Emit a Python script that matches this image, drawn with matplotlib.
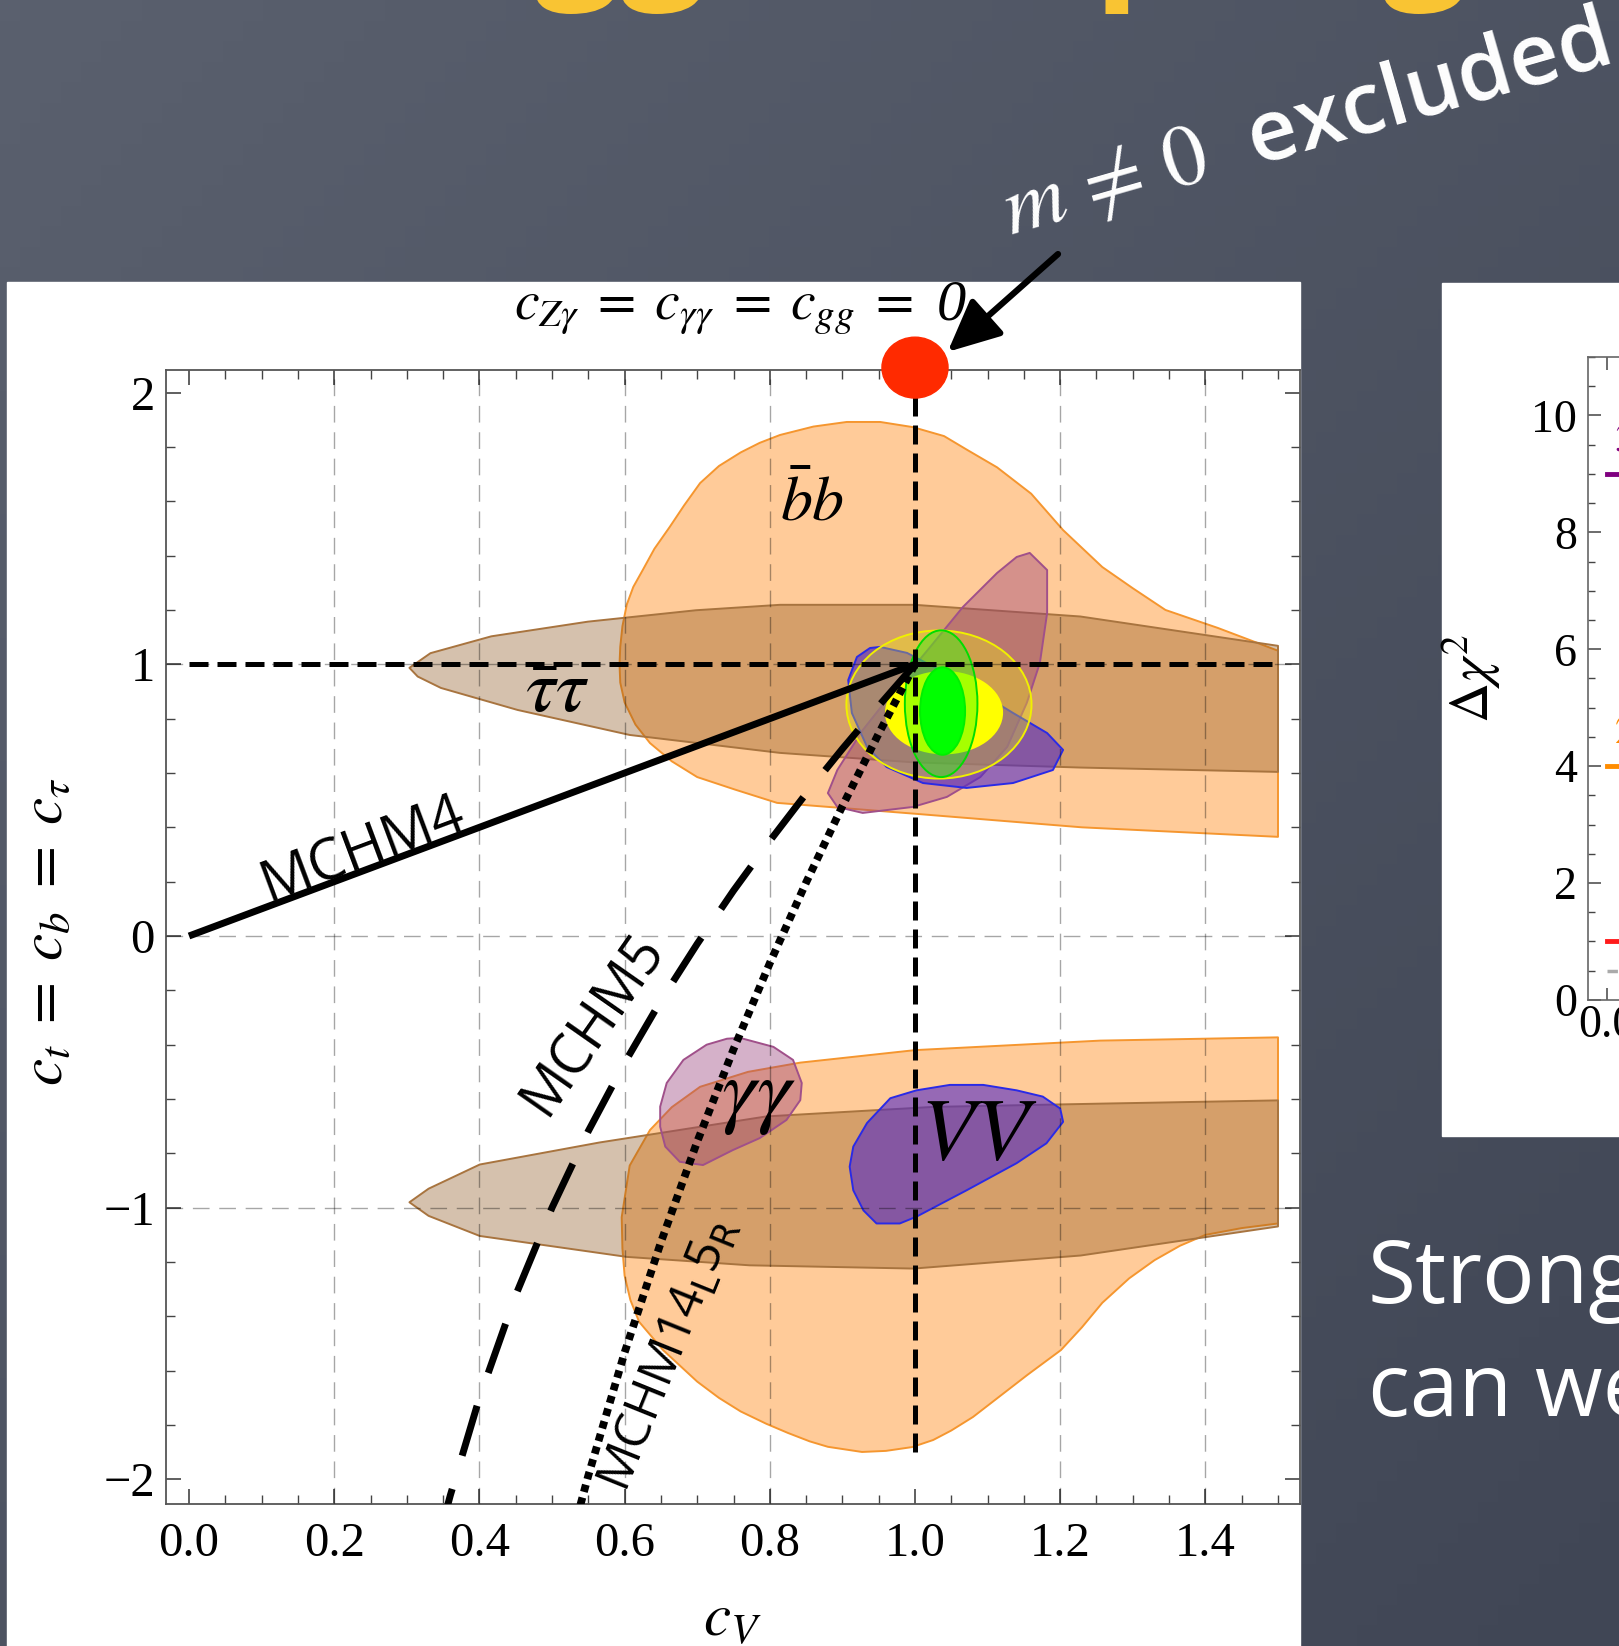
import numpy as np
import matplotlib.pyplot as plt
from matplotlib.patches import Polygon, Ellipse, Rectangle, PathPatch
from matplotlib.textpath import TextPath
from matplotlib.font_manager import FontProperties
from matplotlib.transforms import Affine2D

plt.rcParams['font.family'] = 'Liberation Serif'
plt.rcParams['mathtext.fontset'] = 'stix'
CHALK = 'Open Sans'

# 68% CL regions in the (c_V, c_t) plane, upper and lower branch
bb_up_cv = [1.50, 1.23, 1.00, 0.81, 0.752, 0.70, 0.665, 0.635, 0.615, 0.600, 0.594, 0.593, 0.594, 0.597, 0.603,
            0.612, 0.625, 0.641, 0.662, 0.682, 0.704, 0.73, 0.76, 0.786, 0.814, 0.86, 0.906, 0.952, 0.997, 1.04,
            1.072, 1.113, 1.16, 1.204, 1.258, 1.30, 1.345, 1.417, 1.50]
bb_up_ct = [0.365, 0.40, 0.45, 0.49, 0.539, 0.585, 0.643, 0.71, 0.778, 0.86, 0.933, 1.0, 1.064, 1.14, 1.22,
            1.285, 1.347, 1.425, 1.505, 1.585, 1.667, 1.73, 1.78, 1.815, 1.844, 1.875, 1.892, 1.892, 1.873, 1.84,
            1.789, 1.725, 1.628, 1.494, 1.358, 1.28, 1.20, 1.134, 1.05]
bb_lo_cv = [1.50, 1.255, 1.00, 0.842, 0.77, 0.704, 0.665, 0.635, 0.607, 0.596, 0.597, 0.600, 0.608, 0.62, 0.653,
            0.70, 0.73, 0.76, 0.795, 0.825, 0.855, 0.88, 0.927, 0.96, 0.996, 1.025, 1.05, 1.08, 1.11, 1.155, 1.201,
            1.23, 1.258, 1.295, 1.33, 1.365, 1.40, 1.45, 1.50]
bb_lo_ct = [-0.373, -0.385, -0.42, -0.466, -0.50, -0.555, -0.63, -0.714, -0.845, -1.035, -1.15, -1.25, -1.34,
            -1.42, -1.524, -1.64, -1.70, -1.75, -1.795, -1.829, -1.86, -1.88, -1.899, -1.895, -1.881, -1.855,
            -1.82, -1.77, -1.708, -1.615, -1.524, -1.44, -1.35, -1.26, -1.193, -1.14, -1.10, -1.075, -1.058]

tau_up_cv = [0.3036, 0.3326, 0.4164, 0.5495, 0.6984, 0.8141, 0.9992, 1.2277, 1.50, 1.50, 1.228, 0.999, 0.814,
             0.607, 0.4526, 0.347, 0.315]
tau_up_ct = [0.987, 1.041, 1.103, 1.157, 1.199, 1.219, 1.219, 1.176, 1.068, 0.604, 0.620, 0.639, 0.674, 0.740,
             0.832, 0.913, 0.955]
tau_lo_cv = [0.3036, 0.33, 0.4005, 0.5653, 0.7953, 1.025, 1.2551, 1.50, 1.50, 1.228, 0.998, 0.772, 0.603,
             0.4005, 0.33]
tau_lo_ct = [-0.980, -0.93, -0.841, -0.760, -0.664, -0.629, -0.617, -0.605, -1.069, -1.176, -1.224, -1.212,
             -1.181, -1.104, -1.03]

aa_up_cv = [1.158, 1.182, 1.182, 1.172, 1.154, 1.127, 1.090, 1.044, 0.997, 0.928, 0.893, 0.880, 0.893, 0.928,
            0.975, 1.021, 1.066, 1.113, 1.140]
aa_up_ct = [1.410, 1.347, 1.189, 1.005, 0.858, 0.696, 0.585, 0.512, 0.475, 0.453, 0.475, 0.526, 0.611, 0.758,
            0.916, 1.064, 1.211, 1.336, 1.395]
aa_lo_cv = [0.759, 0.805, 0.832, 0.844, 0.842, 0.823, 0.786, 0.749, 0.708, 0.676, 0.656, 0.649, 0.649, 0.658,
            0.681, 0.713, 0.741]
aa_lo_ct = [-0.375, -0.408, -0.456, -0.541, -0.604, -0.677, -0.744, -0.788, -0.843, -0.831, -0.775, -0.702,
            -0.628, -0.541, -0.456, -0.400, -0.378]

vv_up_cv = [0.938, 0.920, 0.908, 0.913, 0.934, 0.961, 1.011, 1.071, 1.135, 1.190, 1.204, 1.182, 1.135, 1.090,
            1.034, 0.989, 0.952]
vv_up_ct = [1.060, 1.027, 0.942, 0.821, 0.696, 0.622, 0.563, 0.545, 0.563, 0.611, 0.685, 0.747, 0.821, 0.894,
            0.979, 1.042, 1.064]
vv_lo_cv = [0.910, 0.915, 0.929, 0.947, 0.979, 1.002, 1.071, 1.140, 1.181, 1.204, 1.200, 1.176, 1.140, 1.094,
            1.048, 1.002, 0.966, 0.934, 0.915]
vv_lo_ct = [-0.849, -0.936, -1.010, -1.058, -1.058, -1.033, -0.936, -0.836, -0.763, -0.684, -0.635, -0.591,
            -0.568, -0.548, -0.548, -0.568, -0.597, -0.688, -0.775]

# combined fit: (centre c_V, centre c_t, width, height) of 68% and 95% regions
comb_95 = (1.033, 0.852, 0.255, 0.545)
comb_68 = (1.040, 0.822, 0.160, 0.300)
ggf_95 = (1.036, 0.855, 0.100, 0.540)
ggf_68 = (1.038, 0.828, 0.062, 0.322)

# composite Higgs model predictions
mchm4_cv = [0.0, 1.0]
mchm4_ct = [0.0, 1.0]
mchm5_cv = [1.0, 0.95, 0.9, 0.85, 0.8, 0.75, 0.7, 0.65, 0.6, 0.55, 0.5, 0.45, 0.4, 0.36, 0.35]
mchm5_ct = [1.0, 0.847, 0.689, 0.524, 0.35, 0.167, -0.029, -0.238, -0.467, -0.718, -1.0, -1.322, -1.7, -2.058, -2.157]
mchm14_cv = [1.0, 0.95, 0.9, 0.85, 0.8, 0.75, 0.7, 0.65, 0.6, 0.55, 0.53]
mchm14_ct = [1.0, 0.745, 0.478, 0.197, -0.1, -0.417, -0.757, -1.127, -1.533, -1.986, -2.184]

sm_cv, sm_ct = 1.0, 1.0
zero_point = (1.0, 2.092)

xticks = [0.0, 0.2, 0.4, 0.6, 0.8, 1.0, 1.2, 1.4]
yticks = [-2, -1, 0, 1, 2]
grid_x = [0.2, 0.4, 0.6, 0.8, 1.2, 1.4]
grid_y = [-1, 0, 1]

# delta chi^2 panel
levels = [1, 4, 9]
level_colors = ['#ff1a1a', '#ff8c00', '#800080']
level_labels = [r'$1\sigma$', r'$2\sigma$', r'$3\sigma$']

W, H = 1619, 1646
fig = plt.figure(figsize=(W / 100, H / 100), dpi=100)

# chalkboard background
bg = fig.add_axes([0, 0, 1, 1], zorder=-10)
bg.set_axis_off()
gx = np.linspace(0, 1, 80)
gy = np.linspace(0, 1, 80)
t = 0.5 * gx[None, :] + 0.5 * gy[:, None]
top = np.array([90, 96, 110]) / 255
bot = np.array([64, 70, 85]) / 255
bg.imshow(top + t[..., None] * (bot - top), extent=(0, 1, 0, 1), aspect='auto')
bg.set_xlim(0, 1)
bg.set_ylim(0, 1)
bg.add_patch(Rectangle((0.0043, 0), 0.7987, 0.8287, color='white'))
bg.add_patch(Rectangle((0.8907, 0.3098), 0.2, 0.5182, color='white'))

# slide heading sits above the frame, only the descenders reach in
head = TextPath((0, 0), 'Higgs couplings', size=152, prop=FontProperties(family=CHALK, weight='bold'))
head_y = H - 14 - head.get_extents().y0
fig.add_artist(PathPatch(head, transform=Affine2D().translate(372, head_y), facecolor='#f9c433',
                         edgecolor='none', zorder=-5))

fig.text(0.624, 0.857, r'$m\,\neq\,0$  excluded', fontsize=62, family=CHALK, fontweight='semibold',
         color='white', rotation=16, rotation_mode='anchor', va='baseline', math_fontfamily='stix')
fig.text(0.845, 0.2085, 'Strong', fontsize=63, family=CHALK, color='white', va='baseline')
fig.text(0.845, 0.1395, 'can we', fontsize=63, family=CHALK, color='white', va='baseline')

ax = fig.add_axes([0.10253, 0.08627, 0.70043, 0.68894])
ax.set_xlim(-0.0317, 1.5303)
ax.set_ylim(-2.0905, 2.0832)

def region(cv, ct, face, alpha, edge):
    ax.add_patch(Polygon(np.column_stack([cv, ct]), closed=True, facecolor=face, alpha=alpha,
                         edgecolor='none', zorder=1))
    ax.add_patch(Polygon(np.column_stack([cv, ct]), closed=True, facecolor='none', edgecolor=edge,
                         lw=1.4, joinstyle='round', zorder=1))

region(bb_up_cv, bb_up_ct, '#ff8c1e', 0.45, '#f5962f')
region(bb_lo_cv, bb_lo_ct, '#ff8c1e', 0.45, '#f5962f')
region(tau_up_cv, tau_up_ct, '#884f15', 0.35, '#a8743f')
region(tau_lo_cv, tau_lo_ct, '#884f15', 0.35, '#a8743f')
region(aa_up_cv, aa_up_ct, '#963c78', 0.4, '#a0508a')
region(aa_lo_cv, aa_lo_ct, '#963c78', 0.4, '#a0508a')
region(vv_up_cv, vv_up_ct, '#5028c8', 0.6, '#2a2ae6')
region(vv_lo_cv, vv_lo_ct, '#5028c8', 0.6, '#2a2ae6')

for (cx, cy, w, h), face, alpha, edge in [(comb_95, '#ffff00', 0.3, '#f0f000'),
                                         (comb_68, '#ffff00', 1.0, '#ffff00'),
                                         (ggf_95, '#00ff00', 0.35, '#00dd00'),
                                         (ggf_68, '#00ff00', 1.0, '#00f000')]:
    ax.add_patch(Ellipse((cx, cy), w, h, facecolor=face, alpha=alpha, edgecolor='none', zorder=2))
    ax.add_patch(Ellipse((cx, cy), w, h, facecolor='none', edgecolor=edge, lw=1.4, zorder=2))

for gxv in grid_x:
    ax.axvline(gxv, color='k', alpha=0.35, lw=1.0, dashes=(12, 7), zorder=3)
for gyv in grid_y:
    ax.axhline(gyv, color='k', alpha=0.35, lw=1.0, dashes=(12, 7), zorder=3)

ax.plot([0, 1.5], [sm_ct, sm_ct], color='k', lw=3.6, dashes=(3.8, 1.8), zorder=4)
ax.plot([sm_cv, sm_cv], [-1.9, 2.0], color='k', lw=3.6, dashes=(3.8, 1.8), zorder=4)

ax.plot(mchm4_cv, mchm4_ct, color='k', lw=5.0, solid_capstyle='butt', zorder=4)
ax.plot(mchm5_cv, mchm5_ct, color='k', lw=5.0, dashes=(7.5, 5), zorder=4)
ax.plot(mchm14_cv, mchm14_ct, color='k', lw=5.6, dashes=(0.95, 0.75), zorder=4)

ax.text(0.240, 0.316, 'MCHM4', fontsize=41, family=CHALK, rotation=20.5, ha='center', va='center', zorder=5)
ax.text(0.558, -0.324, 'MCHM5', fontsize=40, family=CHALK, rotation=55, ha='center', va='center', zorder=5)
ax.text(0.662, -1.54, r'MCHM14$_\mathsf{L}$5$_\mathsf{R}$', fontsize=36, family=CHALK, rotation=68,
        ha='center', va='center', zorder=5, math_fontfamily='dejavusans')

ax.text(0.858, 1.588, r'$\bar{b}b$', fontsize=46, ha='center', va='center', zorder=5)
ax.text(0.507, 0.89, r'$\bar{\tau}\tau$', fontsize=54, ha='center', va='center', zorder=5)
ax.text(0.784, -0.593, r'$\gamma\gamma$', fontsize=62, ha='center', va='center', zorder=5)
ax.text(1.088, -0.74, r'$VV$', fontsize=64, ha='center', va='center', zorder=5)

ax.add_patch(Ellipse(zero_point, 0.091, 0.224, color='#ff2a00', clip_on=False, zorder=10))
ax.annotate('', xy=(1.045, 2.15), xytext=(1.197, 2.51), annotation_clip=False,
            arrowprops=dict(arrowstyle='-|>,head_length=1.6,head_width=0.75', color='k', lw=4.5,
                            mutation_scale=20, shrinkA=0, shrinkB=0))

ax.set_xticks(xticks)
ax.set_xticklabels([f'{v:.1f}' for v in xticks])
ax.set_yticks(yticks)
ax.set_xticks(np.arange(0, 1.55, 0.05), minor=True)
ax.set_yticks(np.arange(-2.0, 2.01, 0.2), minor=True)
ax.tick_params(which='both', direction='in', top=True, right=True, color='#444444', labelsize=35)
ax.tick_params(which='major', length=11, width=1.2)
ax.tick_params(which='minor', length=6.5, width=1.0)
ax.tick_params(axis='x', pad=13)
ax.tick_params(axis='y', pad=8)
for s in ax.spines.values():
    s.set_color('#555555')
    s.set_linewidth(1.3)

fig.text(0.5635, 0.8056, r'$c_{Z\gamma}\;=\;c_{\gamma\gamma}\;=\;c_{gg}\;=$', fontsize=40,
         ha='right', va='baseline')
fig.text(0.5785, 0.8056, '0', fontsize=42, style='italic', ha='left', va='baseline')
fig.text(0.029, 0.4338, r'$c_t\;=\;c_b\;=\;c_\tau$', fontsize=44, rotation=90, ha='center', va='center')
fig.text(0.4521, 0.0067, r'$c_V$', fontsize=44, ha='center', va='baseline')

# delta chi^2 panel, mostly off the right edge
ax2 = fig.add_axes([0.98085, 0.3925, 0.4, 0.3906])
ax2.set_xlim(-0.03, 1.0)
ax2.set_ylim(0, 11)
for lvl, col, lab in zip(levels, level_colors, level_labels):
    ax2.plot([0, 1], [lvl, lvl], color=col, lw=3.5)
    ax2.text(0.012, lvl + 0.25, lab, color=col, fontsize=28, va='bottom')
ax2.plot([0, 1], [0.5, 0.5], color='#aaaaaa', lw=2.5, dashes=(3, 3))
ax2.set_yticks([0, 2, 4, 6, 8, 10])
ax2.set_yticks(np.arange(0, 11.01, 0.5), minor=True)
ax2.set_xticks([0.0, 0.2, 0.4])
ax2.set_xticklabels(['0.0', '0.2', '0.4'])
ax2.tick_params(which='both', direction='in', top=True, color='#444444', labelsize=33)
ax2.tick_params(which='major', length=9, width=1.1)
ax2.tick_params(which='minor', length=5, width=1.0)
ax2.tick_params(axis='y', pad=8)
for s in ax2.spines.values():
    s.set_color('#666666')
    s.set_linewidth(1.2)
ax2.set_ylabel(r'$\Delta\chi^2$', fontsize=40, labelpad=20)

fig.savefig('out.png', dpi=100)
